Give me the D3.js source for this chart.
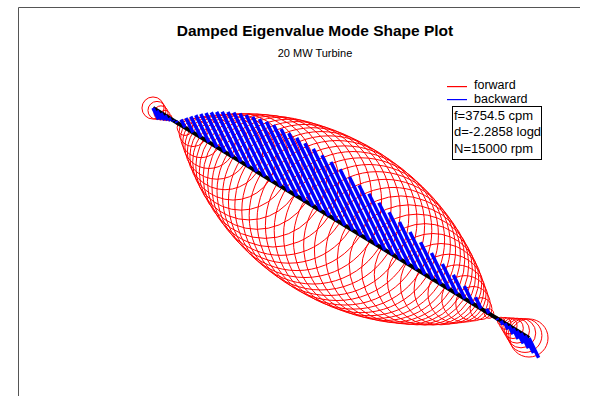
<!DOCTYPE html>
<html>
<head>
<meta charset="utf-8">
<script src="https://cdn.jsdelivr.net/npm/d3@7"></script>
<style>
  html, body { margin: 0; padding: 0; background: #fff; }
  svg { display: block; font-family: Arial, "Liberation Sans", sans-serif; }
</style>
</head>
<body>
<svg id="chart" width="590" height="396"></svg>
<script>
// Rotor stations: axial location (in) and normalized whirl amplitude of the mode
const stationZ = [
  0, 2, 4, 6, 8, 10,
  12, 16, 20, 24, 28, 32, 36, 40, 44, 48, 52, 56, 60, 64, 68, 72, 76, 80, 84, 88,
  92, 96, 100, 104, 108, 112, 116, 120, 124, 128, 132, 136, 140, 144, 148, 152,
  156, 160, 164, 168,
  172, 174, 176, 178, 180, 182, 184, 186, 188
];
const modeAmp = [
  -0.138, -0.113, -0.088, -0.063, -0.038, -0.013,
  0.020, 0.098, 0.176, 0.253, 0.328, 0.401, 0.471, 0.539, 0.604, 0.665,
  0.721, 0.773, 0.820, 0.863, 0.900, 0.931, 0.957, 0.977, 0.990, 0.998,
  1.000, 0.995, 0.985, 0.968, 0.945, 0.917, 0.882, 0.842, 0.797, 0.747,
  0.692, 0.634, 0.572, 0.508, 0.436, 0.363, 0.290, 0.215, 0.137, 0.059,
  -0.019, -0.046, -0.074, -0.101, -0.129, -0.156, -0.184, -0.211, -0.238
];
// Whirl phase of the reference point on each orbit (deg)
const phaseDeg = 116;

const titleText = "Damped Eigenvalue Mode Shape Plot";
const subtitleText = "20 MW Turbine";
const legendLabels = ["forward", "backward"];
const legendColors = ["#ff0000", "#0000ff"];
const infoLines = ["f=3754.5 cpm", "d=-2.2858 logd", "N=15000 rpm"];

const svg = d3.select("#chart");

// Oblique projection: shaft axis runs diagonally across the view
const zExtent = [0, 188];
const axisX = d3.scaleLinear().domain(zExtent).range([153, 529]);
const axisY = d3.scaleLinear().domain(zExtent).range([108, 338]);
const orbitScale = d3.scaleLinear().domain([0, 1]).range([0, 80]);
const traceScale = d3.scaleLinear().domain([0, 1]).range([0, 92]);

const stations = stationZ.map((z, i) => ({ z, amp: modeAmp[i] }));

// Frame
svg.append("line").attr("x1", 18.5).attr("x2", 580).attr("y1", 7.5).attr("y2", 7.5)
  .attr("stroke", "#555").attr("stroke-width", 1);
svg.append("line").attr("x1", 18.5).attr("x2", 18.5).attr("y1", 7.5).attr("y2", 396)
  .attr("stroke", "#555").attr("stroke-width", 1);

// Titles
svg.append("text").attr("x", 315).attr("y", 36).attr("text-anchor", "middle")
  .attr("font-size", 15.5).attr("font-weight", "bold").attr("fill", "#000").text(titleText);
svg.append("text").attr("x", 315).attr("y", 57).attr("text-anchor", "middle")
  .attr("font-size", 11).attr("fill", "#000").text(subtitleText);

const plot = svg.append("g");

// Forward whirl orbits
plot.append("g").selectAll("circle").data(stations).join("circle")
  .attr("cx", d => axisX(d.z))
  .attr("cy", d => axisY(d.z))
  .attr("r", d => orbitScale(Math.abs(d.amp)))
  .attr("fill", "none")
  .attr("stroke", legendColors[0])
  .attr("stroke-width", 1);

// Shaft centerline
plot.append("line")
  .attr("x1", axisX(zExtent[0])).attr("y1", axisY(zExtent[0]))
  .attr("x2", axisX(zExtent[1])).attr("y2", axisY(zExtent[1]))
  .attr("stroke", "#000").attr("stroke-width", 4);

// Backward whirl traces from each station center
const ph = phaseDeg * Math.PI / 180;
plot.append("g").selectAll("line").data(stations).join("line")
  .attr("x1", d => axisX(d.z))
  .attr("y1", d => axisY(d.z))
  .attr("x2", d => axisX(d.z) + Math.sign(d.amp) * traceScale(Math.abs(d.amp)) * Math.cos(ph))
  .attr("y2", d => axisY(d.z) - Math.sign(d.amp) * traceScale(Math.abs(d.amp)) * Math.sin(ph))
  .attr("stroke", legendColors[1])
  .attr("stroke-width", 3.5);

// Legend
const legend = svg.append("g");
legendLabels.forEach((lab, i) => {
  const y = 86 + i * 13;
  legend.append("rect").attr("x", 447).attr("y", y).attr("width", 20).attr("height", 1.2)
    .attr("fill", legendColors[i]);
  legend.append("text").attr("x", 474).attr("y", 89 + i * 14)
    .attr("font-size", 12.5).attr("fill", "#000").text(lab);
});

// Mode information box
svg.append("rect").attr("x", 452.5).attr("y", 106.5).attr("width", 89).attr("height", 53)
  .attr("fill", "#fff").attr("stroke", "#000").attr("stroke-width", 1);
infoLines.forEach((t, i) => {
  svg.append("text").attr("x", 454).attr("y", 119.5 + i * 16.7)
    .attr("font-size", 13).attr("fill", "#000").text(t);
});
</script>
</body>
</html>
